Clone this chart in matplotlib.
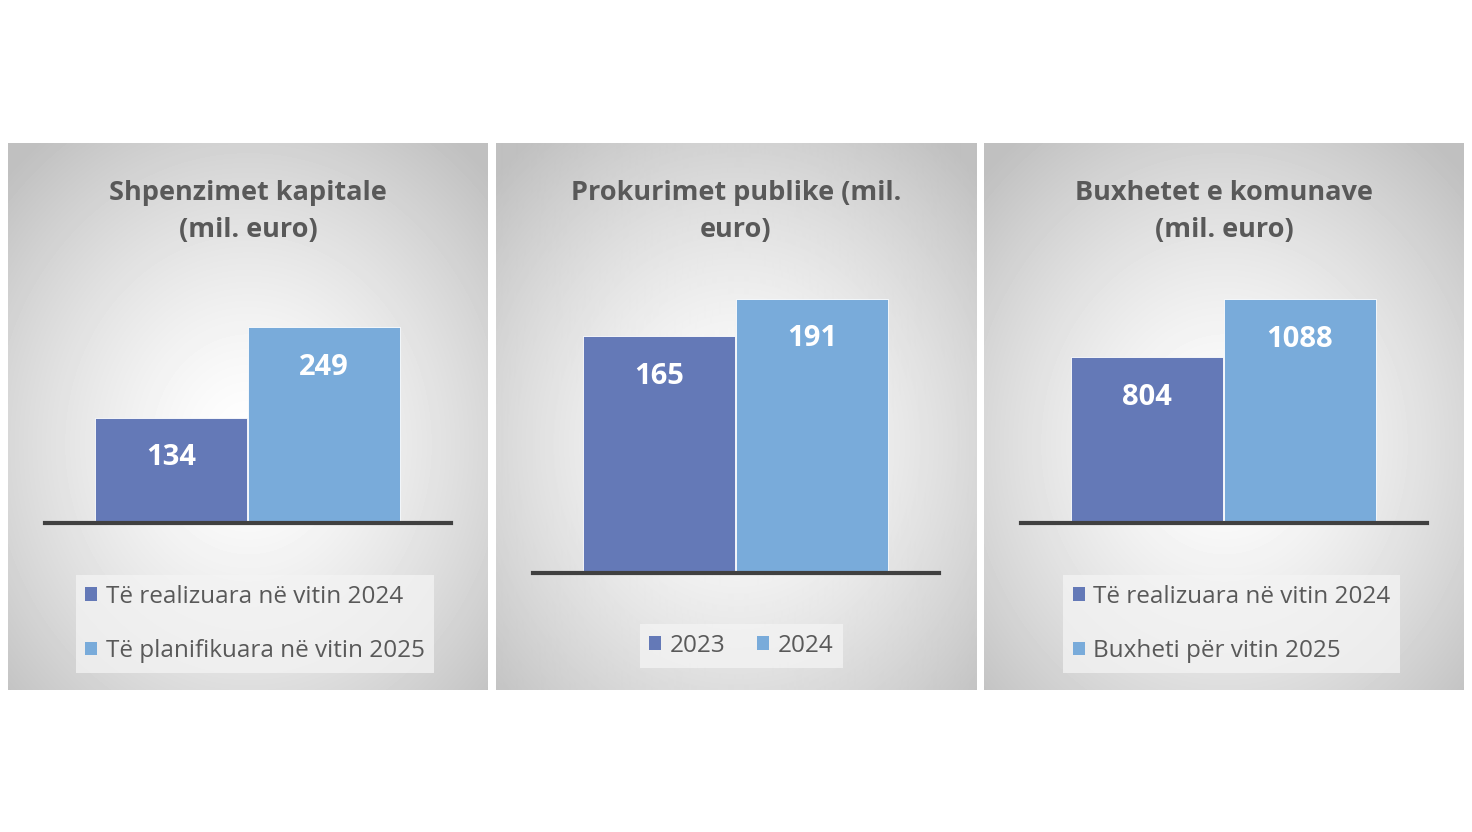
import numpy as np
import matplotlib
matplotlib.use('Agg')
import matplotlib.pyplot as plt
from matplotlib.patches import Patch

# data
titles = ['Shpenzimet kapitale\n(mil. euro)',
          'Prokurimet publike (mil.\neuro)',
          'Buxhetet e komunave\n(mil. euro)']
series_names = [['Të realizuara në vitin 2024', 'Të planifikuara në vitin 2025'],
                ['2023', '2024'],
                ['Të realizuara në vitin 2024', 'Buxheti për vitin 2025']]
values = [[134, 249],
          [165, 191],
          [804, 1088]]
ymax = [296, 197, 1131]

c1 = '#6479B7'
c2 = '#79ABDA'
txt = '#595959'

W, H = 1472, 832
plt.rcParams['font.family'] = ['Open Sans', 'DejaVu Sans']

fig = plt.figure(figsize=(W / 100, H / 100), dpi=100)
fig.patch.set_facecolor('white')


def fx(px):
    return px / W


def fy(py):
    return 1 - py / H


# radial gradient for the panel background
gh, gw = 547, 480
yy, xx = np.mgrid[0:gh, 0:gw]
r = np.sqrt(((xx - gw / 2) / (gw / 2)) ** 2 + ((yy - gh * 0.55) / (gh / 2)) ** 2) / np.sqrt(2)
grad = 1 - 0.25 * np.clip(r, 0, 1) ** 1.4

panel_x = [8, 496, 984]
base_y = [523, 573, 523]
legend_box = [(80, 576, 430, 672), (636, 622, 847, 670), (1067, 576, 1396, 672)]

for i in range(3):
    x0 = panel_x[i]
    bg = fig.add_axes([fx(x0), fy(690), fx(480), 547 / H])
    bg.imshow(grad, cmap='gray', vmin=0, vmax=1, aspect='auto', interpolation='bilinear')
    bg.set_axis_off()

    # title
    fig.text(fx(x0 + 240), fy(211), titles[i], ha='center', va='center',
             fontsize=19.5, fontweight='bold', color=txt, linespacing=1.55)

    # bars
    ax_l = x0 + 37
    ax = fig.add_axes([fx(ax_l), fy(base_y[i]), fx(406), (base_y[i] - 290) / H])
    ax.patch.set_alpha(0)
    bars = ax.bar([0, 1], values[i], width=0.99, color=[c1, c2],
                  edgecolor='white', linewidth=0.6, zorder=2)
    ax.set_xlim(-0.824, 1.83)
    ax.set_ylim(0, ymax[i])
    for s in ['top', 'left', 'right']:
        ax.spines[s].set_visible(False)
    ax.spines['bottom'].set_color('#404040')
    ax.spines['bottom'].set_linewidth(3)
    ax.spines['bottom'].set_zorder(3)
    ax.set_xticks([])
    ax.set_yticks([])
    for b, v in zip(bars, values[i]):
        ax.annotate(str(v), (b.get_x() + b.get_width() / 2, v), xytext=(0, -29),
                    textcoords='offset points', ha='center', va='center',
                    color='white', fontsize=21, fontweight='bold', zorder=4)

    # legend
    lx0, ly0, lx1, ly1 = legend_box[i]
    handles = [Patch(facecolor=c1, edgecolor='none', label=series_names[i][0]),
               Patch(facecolor=c2, edgecolor='none', label=series_names[i][1])]
    ncol = 2 if i == 1 else 1
    leg = bg.legend(handles=handles, loc='center',
                    bbox_to_anchor=(fx((lx0 + lx1) / 2), fy((ly0 + ly1) / 2)),
                    bbox_transform=fig.transFigure, ncol=ncol, fontsize=17.5,
                    frameon=True, fancybox=False, handlelength=0.5, handleheight=0.5,
                    handletextpad=0.35, labelspacing=1.25, columnspacing=1.3,
                    borderpad=0.4)
    leg.get_frame().set_facecolor('#f4f4f4')
    leg.get_frame().set_alpha(0.75)
    leg.get_frame().set_edgecolor('none')
    for t in leg.get_texts():
        t.set_color(txt)

fig.savefig('out.png', dpi=100, facecolor='white')
